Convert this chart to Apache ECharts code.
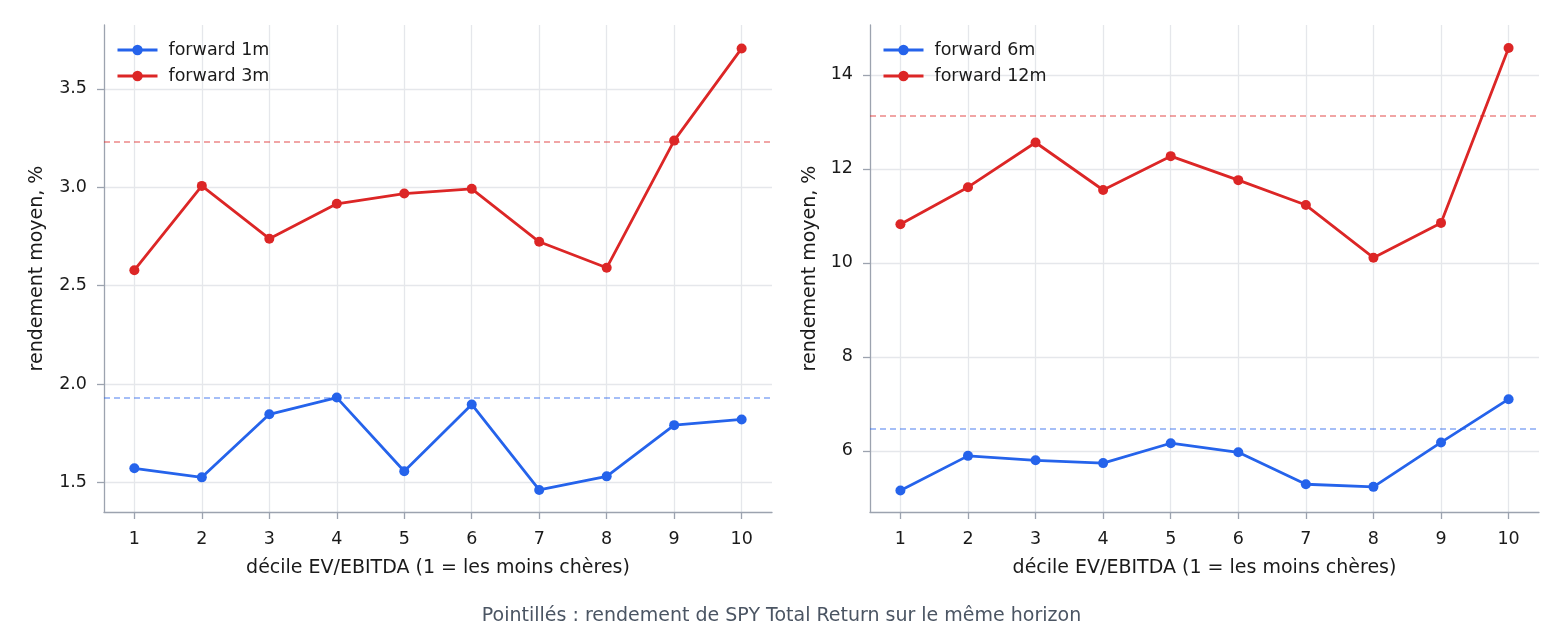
<!DOCTYPE html>
<html>
<head>
<meta charset="utf-8">
<script src="https://cdn.jsdelivr.net/npm/echarts@6/dist/echarts.min.js"></script>
<style>
html,body{margin:0;padding:0;background:#fff;}
#chart{width:1563px;height:629px;}
</style>
</head>
<body>
<div id="chart"></div>
<script>
// ---- data ----
const deciles = [1, 2, 3, 4, 5, 6, 7, 8, 9, 10];
const fwd1m  = [1.573, 1.527, 1.847, 1.932, 1.558, 1.897, 1.463, 1.532, 1.792, 1.821];
const fwd3m  = [2.579, 3.007, 2.739, 2.916, 2.968, 2.992, 2.723, 2.591, 3.237, 3.705];
const fwd6m  = [5.157, 5.894, 5.800, 5.740, 6.163, 5.970, 5.290, 5.235, 6.180, 7.100];
const fwd12m = [10.82, 11.61, 12.56, 11.55, 12.27, 11.76, 11.23, 10.11, 10.85, 14.57];
const spy1m = 1.934, spy3m = 3.227, spy6m = 6.467, spy12m = 13.126;
const yTicksLeft  = [1.5, 2.0, 2.5, 3.0, 3.5];
const yTicksRight = [6, 8, 10, 12, 14];
const names = ['forward 1m', 'forward 3m', 'forward 6m', 'forward 12m'];
const xName = 'décile EV/EBITDA (1 = les moins chères)';
const yName = 'rendement moyen, %';
const footer = 'Pointillés : rendement de SPY Total Return sur le même horizon';

// ---- styles ----
const BLUE = '#2563eb', RED = '#dc2626';
const BLUE_D = 'rgba(37,99,235,0.55)', RED_D = 'rgba(220,38,38,0.55)';
const FONT = 'DejaVu Sans';
const AX = '#9ca3af', GRID = '#e5e7eb', TXT = '#1a1a1a';

function pairs(vals){ return deciles.map((d,i)=>[d, vals[i]]); }

function xAxisDef(idx){
  return {
    type:'value', gridIndex: idx, min:0.55, max:10.45,
    name: xName, nameLocation:'middle', nameGap:47,
    nameTextStyle:{fontFamily:FONT, fontSize:19, color:TXT},
    axisLine:{show:true, lineStyle:{color:AX, width:1.3}},
    axisTick:{show:true, length:7, customValues: deciles, lineStyle:{color:AX, width:1.3}},
    axisLabel:{customValues: deciles, margin:18, fontFamily:FONT, fontSize:17.5, color:TXT},
    splitLine:{show:true, lineStyle:{color:GRID, width:1.3}}
  };
}
function yAxisDef(idx, min, max, ticks, dec){
  return {
    type:'value', gridIndex: idx, min:min, max:max,
    name: yName, nameLocation:'middle', nameGap: idx===0 ? 57 : 50,
    nameTextStyle:{fontFamily:FONT, fontSize:19, color:TXT},
    axisLine:{show:true, lineStyle:{color:AX, width:1.3}},
    axisTick:{show:true, length:7, customValues: ticks, lineStyle:{color:AX, width:1.3}},
    axisLabel:{customValues: ticks, margin:17, fontFamily:FONT, fontSize:17.5, color:TXT,
      formatter: v => dec ? v.toFixed(1) : String(Math.round(v))},
    splitLine:{show:true, lineStyle:{color:GRID, width:1.3}}
  };
}
function lineSeries(name, vals, color, dashColor, bench, idx){
  return {
    name:name, type:'line', xAxisIndex:idx, yAxisIndex:idx,
    data: pairs(vals), symbol:'circle', symbolSize:10,
    lineStyle:{color:color, width:2.8}, itemStyle:{color:color},
    emphasis:{disabled:true}, animation:false,
    markLine:{silent:true, symbol:'none', label:{show:false},
      lineStyle:{color:dashColor, type:[6,4], width:1.5},
      data:[{yAxis: bench}]}
  };
}
function legendDef(items, left){
  return {data: items, orient:'vertical', left:left, top:36, itemWidth:40, itemHeight:13, itemGap:13 - 5,
    lineStyle:{width:3}, selectedMode:false,
    textStyle:{fontFamily:FONT, fontSize:17.5, color:TXT, padding:[0,0,0,6]}};
}

const chart = echarts.init(document.getElementById('chart'), null, {renderer:'canvas'});
chart.setOption({
  backgroundColor:'#fff',
  animation:false,
  title:{text: footer, left:'center', top:602,
    textStyle:{fontFamily:FONT, fontSize:19, fontWeight:'normal', color:'#4b5563'}},
  grid:[
    {left:104, right:791, top:25, bottom:117},
    {left:870, right:24, top:25, bottom:117}
  ],
  legend:[ legendDef([names[0], names[1]], 111), legendDef([names[2], names[3]], 877) ],
  xAxis:[xAxisDef(0), xAxisDef(1)],
  yAxis:[yAxisDef(0, 1.351, 3.824, yTicksLeft, true), yAxisDef(1, 4.70, 15.06, yTicksRight, false)],
  series:[
    lineSeries(names[0], fwd1m, BLUE, BLUE_D, spy1m, 0),
    lineSeries(names[1], fwd3m, RED, RED_D, spy3m, 0),
    lineSeries(names[2], fwd6m, BLUE, BLUE_D, spy6m, 1),
    lineSeries(names[3], fwd12m, RED, RED_D, spy12m, 1)
  ]
});
</script>
</body>
</html>
